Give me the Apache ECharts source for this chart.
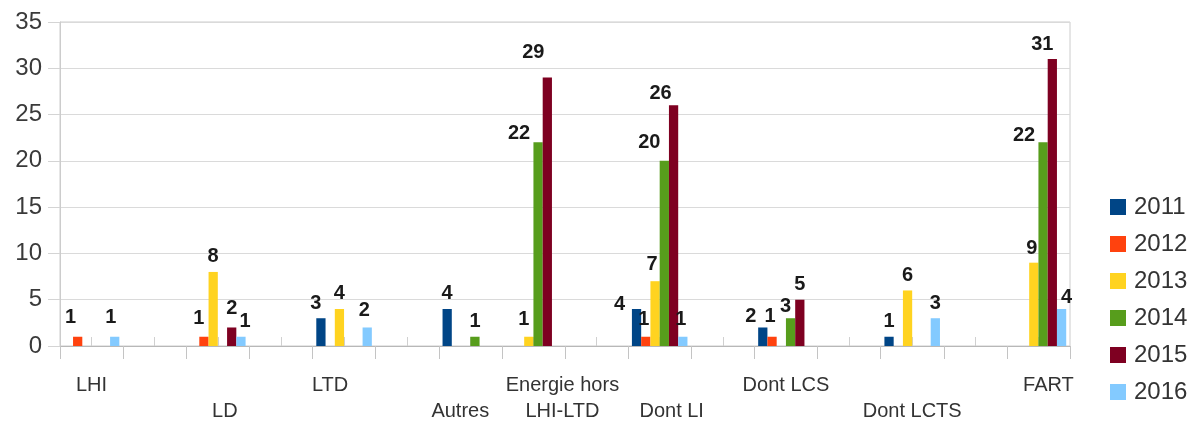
<!DOCTYPE html>
<html>
<head>
<meta charset="utf-8">
<script src="https://cdn.jsdelivr.net/npm/echarts@6/dist/echarts.min.js"></script>
<style>
  html, body { margin: 0; padding: 0; background: #ffffff; }
  #chart { width: 1200px; height: 424px; }
</style>
</head>
<body>
<div id="chart"></div>
<script>
// Categories and yearly counts
const categories = ['LHI', 'LD', 'LTD', 'Autres', 'Energie hors\nLHI-LTD', 'Dont LI', 'Dont LCS', 'Dont LCTS', 'FART'];
const years = ['2011', '2012', '2013', '2014', '2015', '2016'];
const v2011 = [null, null, 3, 4, null, 4, 2, 1, null];
const v2012 = [1, 1, null, null, null, 1, 1, null, null];
const v2013 = [null, 8, 4, null, 1, 7, null, 6, 9];
const v2014 = [null, null, null, 1, 22, 20, 3, null, 22];
const v2015 = [null, 2, null, null, 29, 26, 5, null, 31];
const v2016 = [1, 1, 2, null, null, 1, null, 3, 4];
const yTicks = [0, 5, 10, 15, 20, 25, 30, 35];

const seriesValues = [v2011, v2012, v2013, v2014, v2015, v2016];
const colors = ['#004586', '#ff420e', '#ffd320', '#579d1c', '#7e0021', '#83caff'];

// Axis layout: each category sits in a slot, with empty slots between some of them
const slotIndex = [0, 2, 4, 6, 7, 9, 11, 13, 15];
const slotCount = 16;
// Category labels alternate between two rows; some are nudged sideways
const labelRow = [0, 1, 0, 1, 0, 1, 0, 1, 0];
const labelShift = [0, 7, -14, -10, 29, 12, 0, 0, 10];
// Value label nudges [dx, dy] keyed by "year|category index"
const valueNudge = {
  '2012|0': [-7, -4], '2016|0': [-4, -4],
  '2012|1': [-5, -3], '2015|1': [0, -4], '2016|1': [4, 0],
  '2011|2': [-5, 0], '2016|2': [-3, -2],
  '2013|4': [-5, -2], '2014|4': [-19, 6], '2015|4': [-14, -10],
  '2011|5': [-17, 11], '2012|5': [-2, -2], '2013|5': [-3, -2], '2014|5': [-15, -3], '2015|5': [-13, 3], '2016|5': [-2, -2],
  '2011|6': [-12, 4], '2012|6': [-2, -5], '2014|6': [-5, 3],
  '2014|8': [-19, 8], '2015|8': [-10, 0], '2016|8': [5, 4], '2013|8': [-2, 1]
};

const axisData = new Array(slotCount).fill('');
const rich = {};
categories.forEach((c, i) => {
  axisData[slotIndex[i]] = c;
});
const slotToCat = {};
slotIndex.forEach((s, i) => { slotToCat[s] = i; });

function labelFor(value, idx) {
  const ci = slotToCat[idx];
  if (ci === undefined) return '';
  const key = 'c' + ci;
  const sh = labelShift[ci];
  rich[key] = {
    fontSize: 20, lineHeight: 26, color: '#333333', fontFamily: 'Liberation Sans',
    padding: [0, sh < 0 ? -2 * sh : 0, 0, sh > 0 ? 2 * sh : 0]
  };
  const lines = categories[ci].split('\n').map(t => '{' + key + '|' + t + '}');
  const text = lines.join('\n');
  return labelRow[ci] === 1 ? '\n' + text : text;
}
categories.forEach((c, i) => labelFor(c, slotIndex[i]));

const series = years.map((y, si) => {
  const slots = new Array(slotCount).fill(null);
  seriesValues[si].forEach((v, ci) => {
    if (v === null) { return; }
    const n = valueNudge[y + '|' + ci];
    slots[slotIndex[ci]] = n ? { value: v, label: { offset: n } } : v;
  });
  return {
    name: y,
    type: 'bar',
    data: slots,
    itemStyle: { color: colors[si] },
    barGap: '0%',
    barCategoryGap: '12%',
    label: {
      show: true, position: 'top', distance: 5,
      fontFamily: 'Liberation Sans', fontSize: 20, fontWeight: 'bold', color: '#1a1a1a'
    }
  };
});

const chart = echarts.init(document.getElementById('chart'), null, { renderer: 'canvas' });
chart.setOption({
  backgroundColor: '#ffffff',
  animation: false,
  textStyle: { fontFamily: 'Liberation Sans' },
  grid: {
    left: 60, right: 130, top: 22, bottom: 77,
    show: true, borderColor: '#cccccc', borderWidth: 1
  },
  legend: {
    orient: 'vertical', left: 1105, top: 190,
    icon: 'rect', itemWidth: 16, itemHeight: 16, itemGap: 13,
    data: years,
    textStyle: { fontSize: 24, lineHeight: 24, color: '#333333', fontFamily: 'Liberation Sans', padding: [0, 0, 0, 3] }
  },
  xAxis: [
    {
      type: 'category', data: axisData, boundaryGap: true,
      axisLine: { lineStyle: { color: '#b8b8b8', width: 1 } },
      axisTick: { show: true, interval: 0, inside: false, length: 13, lineStyle: { color: '#c4c4c4' } },
      axisLabel: { interval: 0, margin: 26, lineHeight: 26, fontSize: 20, formatter: labelFor, rich: rich }
    },
    {
      type: 'category', data: axisData, boundaryGap: true, position: 'bottom',
      axisLine: { show: false },
      axisTick: { show: true, interval: 0, inside: true, alignWithLabel: true, length: 9, lineStyle: { color: '#d0d0d0' } },
      axisLabel: { show: false },
      splitLine: { show: false }
    }
  ],
  yAxis: {
    type: 'value', min: yTicks[0], max: yTicks[yTicks.length - 1], interval: yTicks[1] - yTicks[0],
    axisLine: { show: true, lineStyle: { color: '#cccccc' } },
    axisTick: { show: true, length: 12, lineStyle: { color: '#d4d4d4' } },
    axisLabel: { fontSize: 24, color: '#3a3a3a', margin: 18, fontFamily: 'Liberation Sans' },
    splitLine: { lineStyle: { color: '#dadada', width: 1 } }
  },
  series: series
});
</script>
</body>
</html>
